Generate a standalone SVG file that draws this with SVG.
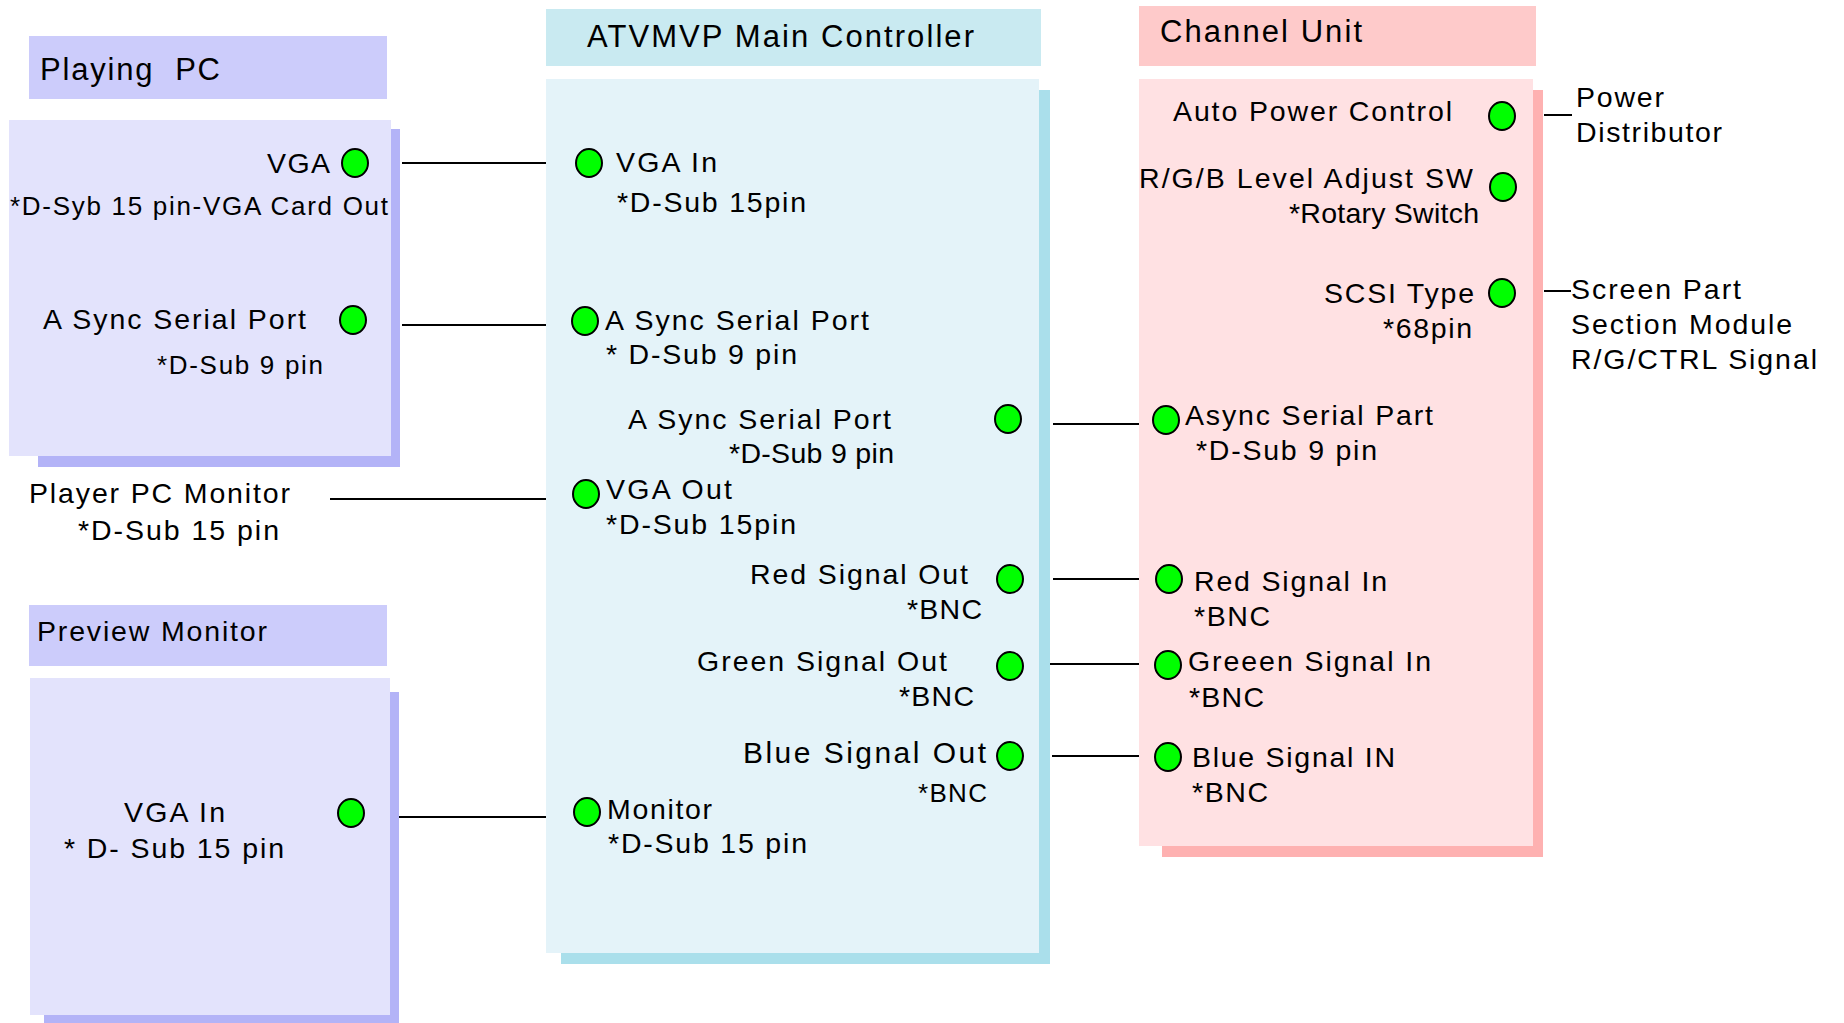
<svg xmlns="http://www.w3.org/2000/svg" width="1844" height="1023" viewBox="0 0 1844 1023">
  <defs>
    <style>
      text { font-family: "Liberation Sans", Arial, sans-serif; fill: #000; }
      .hdr { font-size: 31px; }
      .lbl { font-size: 28.5px; }
      .sm { font-size: 26px; }
      .port { fill: #00ff00; stroke: #000; stroke-width: 2; }
      .wire { stroke: #000; stroke-width: 2; fill: none; }
      .pc-head { fill: #ccccfb; }
      .pc-body { fill: #e3e3fc; }
      .pc-shadow { fill: #b3b3f7; }
      .mc-head { fill: #c9eaf1; }
      .mc-body { fill: #e4f3f9; }
      .mc-shadow { fill: #aadfeb; }
      .ch-head { fill: #fecaca; }
      .ch-body { fill: #ffe1e3; }
      .ch-shadow { fill: #feb1b1; }
    </style>
  </defs>

  <rect width="1844" height="1023" fill="#ffffff"/>

  <!-- Playing PC -->
  <g id="playing-pc">
    <rect class="pc-head" x="29" y="36" width="358" height="63"/>
    <text class="hdr" x="40" y="80" textLength="180" lengthAdjust="spacing">Playing&#160; PC</text>
    <rect class="pc-shadow" x="38" y="129" width="362" height="338"/>
    <rect class="pc-body" x="9" y="120" width="382" height="336"/>
    <text class="lbl" x="267" y="173" textLength="63" lengthAdjust="spacing">VGA</text>
    <ellipse class="port" cx="355" cy="163" rx="13" ry="14"/>
    <text class="sm" x="10" y="215" textLength="378" lengthAdjust="spacing">*D-Syb 15 pin-VGA Card Out</text>
    <text class="lbl" x="43" y="329" textLength="263" lengthAdjust="spacing">A Sync Serial Port</text>
    <ellipse class="port" cx="353" cy="320" rx="13" ry="14"/>
    <text class="sm" x="157" y="374" textLength="166" lengthAdjust="spacing">*D-Sub 9 pin</text>
  </g>

  <!-- Player PC Monitor (free label) -->
  <g id="player-pc-monitor">
    <text class="lbl" x="29" y="503" textLength="261" lengthAdjust="spacing">Player PC Monitor</text>
    <text class="lbl" x="78" y="540" textLength="201" lengthAdjust="spacing">*D-Sub 15 pin</text>
  </g>

  <!-- Preview Monitor -->
  <g id="preview-monitor">
    <rect class="pc-head" x="29" y="605" width="358" height="61"/>
    <text class="lbl" x="37" y="641" textLength="230" lengthAdjust="spacing">Preview Monitor</text>
    <rect class="pc-shadow" x="44" y="692" width="355" height="331"/>
    <rect class="pc-body" x="30" y="678" width="360" height="337"/>
    <text class="lbl" x="124" y="822" textLength="101" lengthAdjust="spacing">VGA In</text>
    <text class="lbl" x="64" y="858" textLength="220" lengthAdjust="spacing">* D- Sub 15 pin</text>
    <ellipse class="port" cx="351" cy="813" rx="13" ry="14"/>
  </g>

  <!-- ATVMVP Main Controller -->
  <g id="main-controller">
    <rect class="mc-head" x="546" y="9" width="495" height="57"/>
    <text class="hdr" x="587" y="47" textLength="387" lengthAdjust="spacing">ATVMVP Main Controller</text>
    <rect class="mc-shadow" x="561" y="90" width="489" height="874"/>
    <rect class="mc-body" x="546" y="79" width="493" height="874"/>

    <ellipse class="port" cx="589" cy="163" rx="13" ry="14"/>
    <text class="lbl" x="616" y="172" textLength="101" lengthAdjust="spacing">VGA In</text>
    <text class="lbl" x="617" y="212" textLength="189" lengthAdjust="spacing">*D-Sub 15pin</text>

    <ellipse class="port" cx="585" cy="321" rx="13" ry="14"/>
    <text class="lbl" x="605" y="330" textLength="264" lengthAdjust="spacing">A Sync Serial Port</text>
    <text class="lbl" x="606" y="364" textLength="191" lengthAdjust="spacing">* D-Sub 9 pin</text>

    <text class="lbl" x="628" y="429" textLength="263" lengthAdjust="spacing">A Sync Serial Port</text>
    <text class="lbl" x="729" y="463" textLength="165" lengthAdjust="spacing">*D-Sub 9 pin</text>
    <ellipse class="port" cx="1008" cy="419" rx="13" ry="14"/>

    <ellipse class="port" cx="586" cy="494" rx="13" ry="14"/>
    <text class="lbl" x="606" y="499" textLength="126" lengthAdjust="spacing">VGA Out</text>
    <text class="lbl" x="606" y="534" textLength="190" lengthAdjust="spacing">*D-Sub 15pin</text>

    <text class="lbl" x="750" y="584" textLength="218" lengthAdjust="spacing">Red Signal Out</text>
    <text class="lbl" x="907" y="619" textLength="75" lengthAdjust="spacing">*BNC</text>
    <ellipse class="port" cx="1010" cy="579" rx="13" ry="14"/>

    <text class="lbl" x="697" y="671" textLength="250" lengthAdjust="spacing">Green Signal Out</text>
    <text class="lbl" x="899" y="706" textLength="75" lengthAdjust="spacing">*BNC</text>
    <ellipse class="port" cx="1010" cy="666" rx="13" ry="14"/>

    <text style="font-size:30px" x="743" y="763" textLength="243" lengthAdjust="spacing">Blue Signal Out</text>
    <text class="sm" x="918" y="802" textLength="69" lengthAdjust="spacing">*BNC</text>
    <ellipse class="port" cx="1010" cy="756" rx="13" ry="14"/>

    <ellipse class="port" cx="587" cy="812" rx="13" ry="14"/>
    <text class="lbl" x="607" y="819" textLength="105" lengthAdjust="spacing">Monitor</text>
    <text class="lbl" x="608" y="853" textLength="199" lengthAdjust="spacing">*D-Sub 15 pin</text>
  </g>

  <!-- Channel Unit -->
  <g id="channel-unit">
    <rect class="ch-head" x="1139" y="6" width="397" height="60"/>
    <text class="hdr" x="1160" y="42" textLength="202" lengthAdjust="spacing">Channel Unit</text>
    <rect class="ch-shadow" x="1162" y="90" width="381" height="767"/>
    <rect class="ch-body" x="1139" y="79" width="394" height="767"/>

    <text class="lbl" x="1173" y="121" textLength="279" lengthAdjust="spacing">Auto Power Control</text>
    <ellipse class="port" cx="1502" cy="116" rx="13" ry="14"/>

    <text class="lbl" x="1139" y="188" textLength="334" lengthAdjust="spacing">R/G/B Level Adjust SW</text>
    <text class="lbl" x="1289" y="223" textLength="190" lengthAdjust="spacing">*Rotary Switch</text>
    <ellipse class="port" cx="1503" cy="187" rx="13" ry="14"/>

    <text class="lbl" x="1324" y="303" textLength="150" lengthAdjust="spacing">SCSI Type</text>
    <text class="lbl" x="1383" y="338" textLength="89" lengthAdjust="spacing">*68pin</text>
    <ellipse class="port" cx="1502" cy="293" rx="13" ry="14"/>

    <ellipse class="port" cx="1166" cy="420" rx="13" ry="14"/>
    <text class="lbl" x="1185" y="425" textLength="248" lengthAdjust="spacing">Async Serial Part</text>
    <text class="lbl" x="1196" y="460" textLength="181" lengthAdjust="spacing">*D-Sub 9 pin</text>

    <ellipse class="port" cx="1169" cy="579" rx="13" ry="14"/>
    <text class="lbl" x="1194" y="591" textLength="193" lengthAdjust="spacing">Red Signal In</text>
    <text class="lbl" x="1194" y="626" textLength="76" lengthAdjust="spacing">*BNC</text>

    <ellipse class="port" cx="1168" cy="665" rx="13" ry="14"/>
    <text class="lbl" x="1188" y="671" textLength="243" lengthAdjust="spacing">Greeen Signal In</text>
    <text class="lbl" x="1189" y="707" textLength="75" lengthAdjust="spacing">*BNC</text>

    <ellipse class="port" cx="1168" cy="757" rx="13" ry="14"/>
    <text class="lbl" x="1192" y="767" textLength="203" lengthAdjust="spacing">Blue Signal IN</text>
    <text class="lbl" x="1192" y="802" textLength="76" lengthAdjust="spacing">*BNC</text>
  </g>

  <!-- External labels on the channel unit side -->
  <g id="power-distributor">
    <text class="lbl" x="1576" y="107" textLength="88" lengthAdjust="spacing">Power</text>
    <text class="lbl" x="1576" y="142" textLength="146" lengthAdjust="spacing">Distributor</text>
  </g>
  <g id="screen-part">
    <text class="lbl" x="1571" y="299" textLength="170" lengthAdjust="spacing">Screen Part</text>
    <text class="lbl" x="1571" y="334" textLength="221" lengthAdjust="spacing">Section Module</text>
    <text class="lbl" x="1571" y="369" textLength="246" lengthAdjust="spacing">R/G/CTRL Signal</text>
  </g>

  <!-- Connectors -->
  <g id="connectors" class="wire">
    <line class="wire" x1="402" y1="163" x2="546" y2="163"/>
    <line class="wire" x1="402" y1="325" x2="546" y2="325"/>
    <line class="wire" x1="330" y1="499" x2="546" y2="499"/>
    <line class="wire" x1="399" y1="817" x2="546" y2="817"/>
    <line class="wire" x1="1053" y1="424" x2="1139" y2="424"/>
    <line class="wire" x1="1053" y1="579" x2="1139" y2="579"/>
    <line class="wire" x1="1050" y1="664" x2="1139" y2="664"/>
    <line class="wire" x1="1052" y1="756" x2="1139" y2="756"/>
    <line class="wire" x1="1544" y1="115" x2="1572" y2="115"/>
    <line class="wire" x1="1544" y1="291" x2="1571" y2="291"/>
  </g>
</svg>
